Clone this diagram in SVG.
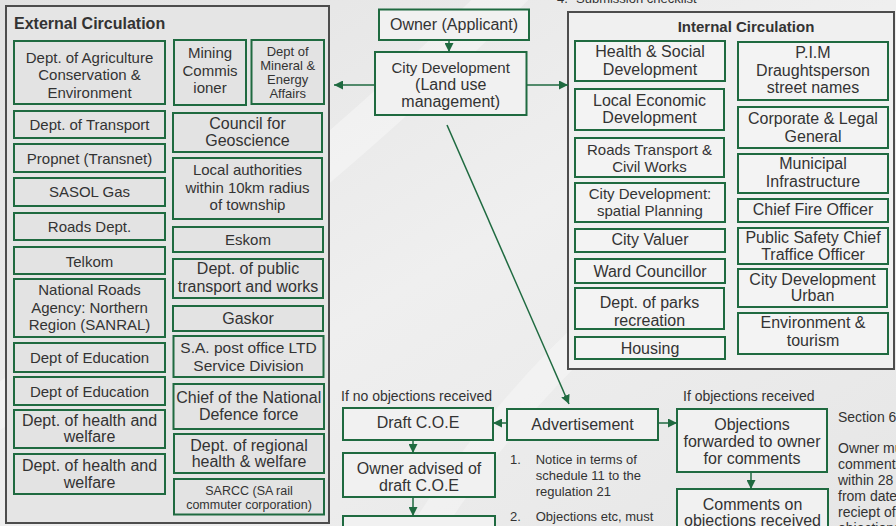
<svg xmlns="http://www.w3.org/2000/svg" width="896" height="526" viewBox="0 0 896 526">
<defs>
<linearGradient id="bg" x1="0" y1="0" x2="1" y2="1">
<stop offset="0" stop-color="#e2e2e2"/>
<stop offset="0.5" stop-color="#efefef"/>
<stop offset="1" stop-color="#e6e6e6"/>
</linearGradient>
<marker id="ah" viewBox="0 0 10 10" refX="10" refY="5" markerWidth="9" markerHeight="9" markerUnits="userSpaceOnUse" orient="auto">
<path d="M0,0 L10,5 L0,10 z" fill="#1f6a40"/>
</marker>
<style>
text{font-family:"Liberation Sans",Arial,sans-serif;fill:#333;}
.c{text-anchor:middle;}
.t{font-size:15px;}
.t16{font-size:16px;}
.t13{font-size:13px;}
.t14{font-size:14px;}
.b{font-weight:bold;}
.ext{fill:#e3e3e3;stroke:#1f6a40;stroke-width:2;}
.int{fill:#f3f3f3;stroke:#1f6a40;stroke-width:2;}
.flow{fill:#f1f1f1;stroke:#1f6a40;stroke-width:2;}
.panel{stroke:#4d4d4d;stroke-width:2;}
.con{stroke:#1f6a40;stroke-width:1.5;fill:none;marker-end:url(#ah);}
</style>
</defs>
<rect x="0" y="0" width="896" height="526" fill="url(#bg)"/>
<path d="M-20,420 C150,300 300,200 520,-20" stroke="#ffffff" stroke-opacity="0.35" stroke-width="40" fill="none"/>
<path d="M420,540 C520,380 650,250 900,120" stroke="#ffffff" stroke-opacity="0.3" stroke-width="30" fill="none"/>

<text x="557" y="3" class="t13">4.</text>
<text x="576" y="3" class="t13">Submission checklist</text>

<g id="external-circulation">
<rect x="6" y="6" width="323" height="517" fill="#e5e5e5" class="panel"/>
<text x="14" y="29" class="t16 b">External Circulation</text>
</g>
<g id="ext-agriculture"><rect x="14" y="41" width="151" height="63" class="ext"/>
<text class="t c" x="89.5" y="63">Dept. of Agriculture</text><text class="t c" x="89.5" y="80.3">Conservation &amp;</text><text class="t c" x="89.5" y="97.6">Environment</text></g>
<g id="ext-transport"><rect x="14" y="111" width="151" height="27" class="ext"/><text class="t c" x="89.5" y="129.5">Dept. of Transport</text></g>
<g id="ext-propnet"><rect x="14" y="144" width="151" height="28" class="ext"/><text class="t c" x="89.5" y="163.5">Propnet (Transnet)</text></g>
<g id="ext-sasol"><rect x="14" y="178" width="151" height="28" class="ext"/><text class="t c" x="89.5" y="197.3">SASOL Gas</text></g>
<g id="ext-roads"><rect x="14" y="213" width="151" height="27" class="ext"/><text class="t c" x="89.5" y="232">Roads Dept.</text></g>
<g id="ext-telkom"><rect x="14" y="247" width="151" height="27" class="ext"/><text class="t c" x="89.5" y="266.5">Telkom</text></g>
<g id="ext-sanral"><rect x="14" y="279" width="151" height="58" class="ext"/>
<text class="t c" x="89.5" y="295">National Roads</text><text class="t c" x="89.5" y="312.7">Agency: Northern</text><text class="t c" x="89.5" y="330.4">Region (SANRAL)</text></g>
<g id="ext-education1"><rect x="14" y="343" width="151" height="29" class="ext"/><text class="t c" x="89.5" y="363.3">Dept of Education</text></g>
<g id="ext-education2"><rect x="14" y="377" width="151" height="28" class="ext"/><text class="t c" x="89.5" y="397">Dept of Education</text></g>
<g id="ext-health1"><rect x="14" y="410" width="151" height="38" class="ext"/>
<text class="t16 c" x="89.5" y="425.7">Dept. of health and</text><text class="t16 c" x="89.5" y="442.3">welfare</text></g>
<g id="ext-health2"><rect x="14" y="454" width="151" height="40" class="ext"/>
<text class="t16 c" x="89.5" y="470.7">Dept. of health and</text><text class="t16 c" x="89.5" y="487.7">welfare</text></g>

<g id="ext-mining"><rect x="174" y="40" width="72" height="65" class="ext"/>
<text class="t c" x="210" y="58">Mining</text><text class="t c" x="210" y="75.5">Commis</text><text class="t c" x="210" y="92.5">ioner</text></g>
<g id="ext-mineral"><rect x="251.5" y="40" width="72.5" height="64" class="ext"/>
<text class="t13 c" x="287.7" y="55.5">Dept of</text><text class="t13 c" x="287.7" y="69.5">Mineral &amp;</text><text class="t13 c" x="287.7" y="83.5">Energy</text><text class="t13 c" x="287.7" y="97.5">Affairs</text></g>
<g id="ext-geoscience"><rect x="173" y="113" width="149" height="39" class="ext"/>
<text class="t16 c" x="247.5" y="129">Council for</text><text class="t16 c" x="247.5" y="145.5">Geoscience</text></g>
<g id="ext-local"><rect x="173" y="158" width="149" height="61" class="ext"/>
<text class="t c" x="247.5" y="175">Local authorities</text><text class="t c" x="247.5" y="192.5">within 10km radius</text><text class="t c" x="247.5" y="210">of township</text></g>
<g id="ext-eskom"><rect x="173" y="227" width="150" height="25" class="ext"/><text class="t c" x="248" y="245">Eskom</text></g>
<g id="ext-public"><rect x="173" y="259" width="150" height="39" class="ext"/>
<text class="t16 c" x="248" y="274.3">Dept. of public</text><text class="t16 c" x="248" y="291.5">transport and works</text></g>
<g id="ext-gaskor"><rect x="173" y="306" width="150" height="25" class="ext"/><text class="t16 c" x="248" y="323.5">Gaskor</text></g>
<g id="ext-postoffice"><rect x="173.5" y="336" width="150" height="41" class="ext"/>
<text class="c" style="font-size:15.5px" x="248.5" y="353.3">S.A. post office LTD</text><text class="c" style="font-size:15.5px" x="248.5" y="370.7">Service Division</text></g>
<g id="ext-defence"><rect x="173.5" y="384" width="150.5" height="45" class="ext"/>
<text class="t16 c" x="248.7" y="403.3">Chief of the National</text><text class="t16 c" x="248.7" y="420">Defence force</text></g>
<g id="ext-regional"><rect x="174" y="434" width="150" height="39" class="ext"/>
<text class="t16 c" x="249" y="451">Dept. of regional</text><text class="t16 c" x="249" y="467.3">health &amp; welfare</text></g>
<g id="ext-sarcc"><rect x="174" y="479" width="150" height="35.5" class="ext"/>
<text class="c" style="font-size:12.5px" x="249" y="494.5">SARCC (SA rail</text><text class="c" style="font-size:12.5px" x="249" y="508.5">commuter corporation)</text></g>

<g id="internal-circulation">
<rect x="568" y="12" width="326" height="357" fill="#f0f0f0" class="panel"/>
<text x="746" y="32" class="t b c">Internal Circulation</text>
</g>
<g id="int-health"><rect x="575" y="41" width="150" height="40" class="int"/>
<text class="t16 c" x="650" y="57.3">Health &amp; Social</text><text class="t16 c" x="650" y="75">Development</text></g>
<g id="int-led"><rect x="575" y="89" width="149" height="41" class="int"/>
<text class="t16 c" x="649.5" y="106">Local Economic</text><text class="t16 c" x="649.5" y="123.3">Development</text></g>
<g id="int-roads"><rect x="575" y="138" width="149" height="39" class="int"/>
<text class="t c" x="649.5" y="155">Roads Transport &amp;</text><text class="t c" x="649.5" y="172.3">Civil Works</text></g>
<g id="int-spatial"><rect x="575" y="183" width="150" height="39" class="int"/>
<text class="t c" x="650" y="199">City Development:</text><text class="t c" x="650" y="215.7">spatial Planning</text></g>
<g id="int-valuer"><rect x="575" y="229" width="150" height="23" class="int"/><text class="t16 c" x="650" y="245">City Valuer</text></g>
<g id="int-ward"><rect x="575" y="259" width="150" height="24" class="int"/><text class="t16 c" x="650" y="276.7">Ward Councillor</text></g>
<g id="int-parks"><rect x="575" y="288" width="149" height="41" class="int"/>
<text class="t16 c" x="649.5" y="308.3">Dept. of parks</text><text class="t16 c" x="649.5" y="325.7">recreation</text></g>
<g id="int-housing"><rect x="575" y="337" width="150" height="22" class="int"/><text class="t16 c" x="650" y="354">Housing</text></g>

<g id="int-pim"><rect x="738" y="42" width="150" height="58" class="int"/>
<text class="t16 c" x="813" y="58.3">P.I.M</text><text class="t16 c" x="813" y="76">Draughtsperson</text><text class="t16 c" x="813" y="93.3">street names</text></g>
<g id="int-corporate"><rect x="738" y="107" width="150" height="41" class="int"/>
<text class="t16 c" x="813" y="124.3">Corporate &amp; Legal</text><text class="t16 c" x="813" y="141.7">General</text></g>
<g id="int-municipal"><rect x="738" y="154" width="150" height="39" class="int"/>
<text class="t16 c" x="813" y="169.3">Municipal</text><text class="t16 c" x="813" y="186.7">Infrastructure</text></g>
<g id="int-fire"><rect x="738" y="199" width="150" height="23" class="int"/><text class="t16 c" x="813" y="214.5">Chief Fire Officer</text></g>
<g id="int-safety"><rect x="738" y="228" width="150" height="36" class="int"/>
<text class="t16 c" x="813" y="242.7">Public Safety Chief</text><text class="t16 c" x="813" y="260">Traffice Officer</text></g>
<g id="int-urban"><rect x="738" y="269" width="149" height="38" class="int"/>
<text class="t16 c" x="812.5" y="285">City Development</text><text class="t16 c" x="812.5" y="300.7">Urban</text></g>
<g id="int-environment"><rect x="738" y="313" width="150" height="41" class="int"/>
<text class="t16 c" x="813" y="328.3">Environment &amp;</text><text class="t16 c" x="813" y="345.7">tourism</text></g>

<g id="owner"><rect x="379" y="9.5" width="150" height="30.5" class="flow"/><text class="t16 c" x="454" y="30">Owner (Applicant)</text></g>
<g id="city-development"><rect x="375" y="52" width="151.5" height="63" class="flow"/>
<text class="t c" x="450.7" y="72.5">City Development</text><text class="t16 c" x="450.7" y="89.5">(Land use</text><text class="t16 c" x="450.7" y="106.5">management)</text></g>

<text x="341" y="400.5" class="t14">If no objections received</text>
<g id="draft-coe"><rect x="343" y="408" width="150" height="32" class="flow"/><text class="t16 c" x="418" y="428.3">Draft C.O.E</text></g>
<g id="owner-advised"><rect x="343" y="453" width="152" height="44" class="flow"/>
<text class="t16 c" x="419" y="474.3">Owner advised of</text><text class="t16 c" x="419" y="490.7">draft C.O.E</text></g>
<g id="next-step"><rect x="343" y="516" width="152" height="30" class="flow"/></g>

<g id="advertisement"><rect x="507" y="409" width="151" height="31" class="flow"/><text class="t16 c" x="582.5" y="430">Advertisement</text></g>
<g id="advert-notes">
<text x="510" y="464.3" class="t13">1.</text>
<text x="535.7" y="464.3" class="t13">Notice in terms of</text>
<text x="535.7" y="480" class="t13">schedule 11 to the</text>
<text x="535.7" y="495.7" class="t13">regulation 21</text>
<text x="510" y="520.7" class="t13">2.</text>
<text x="535.7" y="520.7" class="t13">Objections etc, must</text>
</g>

<text x="683" y="400.5" class="t14">If objections received</text>
<g id="objections-forwarded"><rect x="677" y="409" width="150" height="63" class="flow"/>
<text class="t16 c" x="752" y="430">Objections</text><text class="t16 c" x="752" y="447.3">forwarded to owner</text><text class="t16 c" x="752" y="464.3">for comments</text></g>
<g id="comments-received"><rect x="677" y="489" width="151" height="50" class="flow"/>
<text class="t16 c" x="752.5" y="510">Comments on</text><text class="t16 c" x="752.5" y="526">objections received</text></g>

<g id="section-notes">
<text x="838" y="422" class="t14">Section 6</text>
<text x="838" y="452.5" class="t14">Owner must</text>
<text x="838" y="468.5" class="t14">comments</text>
<text x="838" y="484.5" class="t14">within 28</text>
<text x="838" y="500.5" class="t14">from date</text>
<text x="838" y="516.5" class="t14">reciept of</text>
<text x="838" y="532.5" class="t14">objections</text>
</g>

<g id="connectors">
<line class="con" x1="449" y1="40" x2="449" y2="52"/>
<line class="con" x1="375" y1="85" x2="334" y2="85"/>
<line class="con" x1="526.5" y1="85" x2="568" y2="85"/>
<line class="con" x1="447" y1="125" x2="569" y2="404"/>
<line class="con" x1="507" y1="423" x2="493" y2="423"/>
<line class="con" x1="413" y1="440" x2="413" y2="453"/>
<line class="con" x1="413" y1="497" x2="413" y2="516"/>
<line class="con" x1="658" y1="423" x2="677" y2="423"/>
<line class="con" x1="751" y1="472" x2="751" y2="489"/>
</g>
</svg>
